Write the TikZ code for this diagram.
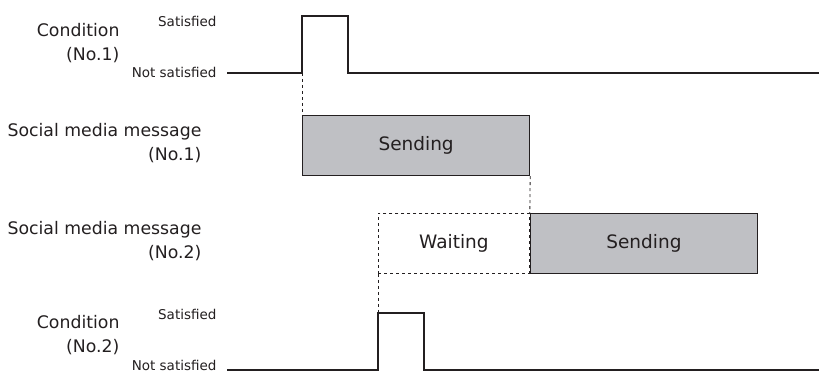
\documentclass[tikz,border=0pt]{standalone}
\usepackage{fontspec}
\setmainfont{DejaVu Sans}
\usetikzlibrary{positioning}
\definecolor{cinzaenvio}{RGB}{191,192,196}
\definecolor{tinta}{RGB}{35,31,32}

\begin{document}
\begin{tikzpicture}[x=1pt, y=-1pt, text=tinta,
    rotulo/.style={align=right, anchor=east, font=\fontsize{17.3}{24}\selectfont},
    nivel/.style={anchor=east, font=\fontsize{13.5}{15}\selectfont},
    sinal/.style={line width=2.2pt, draw=tinta},
    guia/.style={dashed, line width=0.8pt, draw=tinta},
    caixaenvio/.style={draw=tinta, fill=cinzaenvio, line width=1.2pt, minimum width=227pt, minimum height=60pt, inner sep=0pt, font=\fontsize{18.5}{20}\selectfont},
    caixaespera/.style={draw=tinta, dashed, line width=0.8pt, minimum width=151pt, minimum height=60pt, inner sep=0pt, font=\fontsize{18.5}{20}\selectfont}]
        \useasboundingbox (0,0) rectangle (821,374);

        % Rótulos à esquerda
        \node[rotulo] (cond1) at (123,43) {Condition\\(No.1)};
        \node[rotulo] (msg1) at (205,143) {Social media message\\(No.1)};
        \node[rotulo] (msg2) at (205,241) {Social media message\\(No.2)};
        \node[rotulo] (cond2) at (123,335) {Condition\\(No.2)};

        \node[nivel] (sat1) at (220,21) {Satisfied};
        \node[nivel] (nsat1) at (220,72) {Not satisfied};
        \node[nivel] (sat2) at (220,314) {Satisfied};
        \node[nivel] (nsat2) at (220,365) {Not satisfied};

        % Sinais de condição
        \coordinate (sobe1) at (302,73);
        \coordinate (sobe2) at (378,313);
        \draw[sinal] (227,73) -- (sobe1) -- (302,16) -- (348,16) -- (348,73) -- (819,73);
        \draw[sinal] (227,370) -- (378,370) -- (sobe2) -- (424,313) -- (424,370) -- (819,370);

        % Mensagens
        \node[caixaenvio, anchor=north west] (envio1) at (302,115) {Sending};
        \node[caixaespera, anchor=north west] (espera2) at (378,213) {Waiting};
        \node[caixaenvio, right=0pt of espera2] (envio2) {Sending};

        % Linhas guia
        \draw[guia] (sobe1) -- (envio1.north west);
        \draw[guia] (envio1.south east) -- (envio2.north west);
        \draw[guia] (espera2.south west) -- (sobe2);
    \end{tikzpicture}
\end{document}
